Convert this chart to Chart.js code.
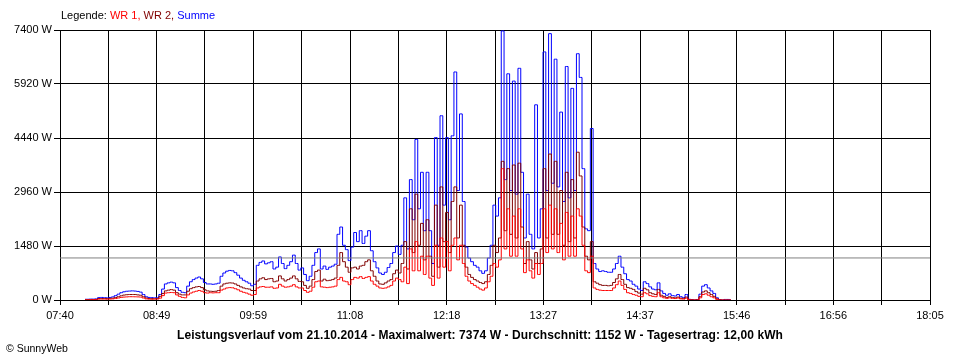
<!DOCTYPE html>
<html>
<head>
<meta charset="utf-8">
<title>Leistungsverlauf 21.10.2014</title>
<script src="https://cdn.jsdelivr.net/npm/chart.js@4.4.1/dist/chart.umd.min.js"></script>
<style>
  html, body { margin: 0; padding: 0; background: #fff; }
  #wrap { position: relative; width: 960px; height: 360px; overflow: hidden; font-family: 'Liberation Sans', Arial, sans-serif; }
  #chart { position: absolute; left: 0; top: 0; }
  #legende { position: absolute; left: 61px; top: 9px; font-size: 11px; color: #000; white-space: nowrap; }
  #caption { position: absolute; left: 0; width: 960px; top: 328px; text-align: center; font-size: 12px; font-weight: bold; letter-spacing: 0.1px; color: #000; white-space: nowrap; }
  #copy { position: absolute; left: 6px; top: 342px; font-size: 10.5px; color: #000; }
</style>
</head>
<body>
<div id="wrap">
  <canvas id="chart" width="960" height="360"></canvas>
  <div id="legende">Legende: <span style="color:#ff0000">WR 1,</span> <span style="color:#800000">WR 2,</span> <span style="color:#0000ff">Summe</span></div>
  <div id="caption">Leistungsverlauf vom 21.10.2014 - Maximalwert: 7374 W - Durchschnitt: 1152 W - Tagesertrag: 12,00 kWh</div>
  <div id="copy">&copy; SunnyWeb</div>
</div>
<script>
// samples every 2 minutes, first one at 07:58
const startMinute = 478;
const stepMinutes = 2;
// x axis runs 07:40 .. 18:05 (minutes of the day)
const axisStart = 460;
const axisEnd = 1085;
const xTickLabels = ['07:40', '08:49', '09:59', '11:08', '12:18', '13:27', '14:37', '15:46', '16:56', '18:05'];
const yMax = 7400;
const yStep = 1480;
const averageW = 1152;

// Summe (blue)
const sumW = [
  20, 20, 25, 25, 30, 65, 70, 65, 60, 70, 85, 120, 160, 200, 225, 240, 245, 250, 245, 235, 215, 150, 90, 70, 65,
  60, 65, 150, 300, 440, 470, 490, 470, 340, 260, 210, 200, 380, 500, 560, 600, 630, 580, 480, 440, 440, 430, 440, 460, 650, 740, 790, 810, 800, 750, 680, 600, 540, 500, 460, 390,
  430, 950, 1030, 1070, 990, 1020, 1050, 850, 900, 1180, 1000, 860, 950, 1050, 1230, 1000, 820, 880, 700, 530, 650, 950, 1300, 1400, 850, 930, 840, 900, 930, 980,
  1800, 2000, 1500, 1380, 1080, 1450, 1850, 1600, 1900, 1550, 1750, 1900, 1350, 1050, 880, 740, 700, 760, 890, 1000, 1300, 1480, 1250,
  1500, 2800, 1400, 3300, 2200, 4400, 2500, 3500, 1900, 3500, 1900, 1000, 4450, 1500, 5050, 2600, 4450, 2200, 4500, 6250, 3000, 5100, 2700, 1450,
  1150, 1050, 950, 900, 800, 730, 800, 1150, 1500, 2600, 2300,
  2800, 7374, 3300, 6200, 3000, 6000, 2900, 6350, 3500, 1700, 2900, 1800, 1400, 5350, 1700, 2500,
  6800, 3000, 7300, 3200, 6600, 3100, 5150, 2700, 6400, 2800, 5800, 3000, 6750, 6100, 3600, 1950, 1900, 4700, 1000, 850,
  780, 800, 780, 760, 760, 850, 1000, 1200, 900, 720, 560, 520, 430, 380, 300, 260, 500, 450, 360, 300, 280, 470, 250, 180,
  130, 170, 120, 110, 150, 90, 70, 150, 20, 10, 0, 10, 160, 380, 420, 330, 250, 180, 60, 10, 0, 15, 15, 0
];

// WR 2 (dark red)
const wr2W = [
  10, 10, 10, 12, 15, 40, 40, 40, 38, 45, 50, 70, 90, 115, 135, 145, 150, 150, 150, 140, 130, 90, 55, 40, 38,
  30, 40, 100, 180, 250, 270, 285, 270, 200, 160, 140, 140, 240, 310, 340, 360, 370, 340, 280, 250, 240, 235, 240, 260, 380, 440, 460, 470, 465, 440, 400, 360, 330, 310, 300, 260,
  260, 520, 580, 610, 560, 580, 590, 500, 520, 660, 580, 520, 560, 600, 660, 580, 510, 500, 400, 320, 380, 560, 780, 820, 520, 570, 530, 540, 560, 600,
  950, 1300, 1050, 900, 760, 880, 900, 850, 930, 950, 1050, 1100, 800, 650, 520, 440, 430, 470, 520, 560, 720, 820, 740,
  1000, 1600, 850, 2500, 1300, 2900, 1500, 2100, 1100, 2200, 1200, 650, 2600, 900, 3100, 1600, 2400, 1300, 2700, 3100, 1700, 2600, 1500, 900,
  700, 620, 560, 520, 480, 450, 500, 700, 950, 1500, 1300,
  1700, 3800, 1900, 3600, 1800, 3700, 1700, 3750, 2000, 1000, 1600, 1100, 850, 1300, 1000, 1400,
  3600, 1700, 4000, 1800, 3800, 1800, 3000, 1500, 3500, 1600, 3300, 1700, 4050, 3400, 2000, 1200, 1100, 1600, 500, 460,
  420, 400, 400, 390, 400, 480, 580, 700, 560, 430, 340, 320, 290, 230, 190, 160, 320, 280, 200, 170, 150, 290, 130, 100,
  70, 90, 70, 60, 80, 50, 40, 80, 10, 5, 0, 5, 90, 220, 250, 200, 150, 100, 30, 5, 0, 0, 0, 0
];

// WR 1 (red)
const wr1W = [
  5, 5, 8, 8, 10, 25, 25, 25, 22, 25, 30, 40, 55, 70, 80, 85, 90, 90, 88, 85, 80, 55, 30, 25, 20,
  30, 25, 50, 120, 190, 200, 205, 200, 140, 100, 70, 60, 140, 190, 220, 240, 260, 240, 200, 190, 200, 195, 200, 200, 270, 300, 330, 340, 335, 310, 280, 240, 210, 190, 160, 130,
  150, 330, 360, 370, 350, 350, 360, 320, 330, 430, 380, 350, 360, 380, 420, 360, 330, 330, 260, 210, 240, 350, 500, 520, 360, 350, 340, 350, 360, 380,
  560, 620, 520, 500, 420, 560, 620, 600, 640, 590, 620, 640, 520, 430, 380, 330, 320, 330, 360, 400, 520, 600, 560,
  500, 900, 450, 1400, 800, 1600, 800, 1200, 700, 1200, 600, 400, 1500, 600, 1700, 900, 1600, 800, 1500, 1700, 1100, 1500, 1000, 650,
  520, 450, 400, 350, 300, 270, 330, 500, 650, 1000, 900,
  1100, 3600, 1400, 2500, 1200, 2300, 1200, 2500, 1400, 750, 1100, 800, 600, 1000, 700, 1000,
  2500, 1300, 2600, 1400, 2500, 1300, 2100, 1100, 2400, 1200, 2300, 1200, 2500, 2300, 1500, 800, 750, 1200, 330, 290,
  270, 260, 260, 260, 260, 330, 420, 520, 400, 290, 200, 180, 150, 130, 100, 90, 200, 170, 120, 100, 90, 200, 90, 60,
  45, 60, 45, 40, 55, 30, 25, 50, 5, 0, 0, 0, 60, 150, 170, 130, 90, 60, 20, 0, 0, 0, 0, 0
];

function toPoints(values) {
  return values.map((v, i) => ({ x: startMinute + i * stepMinutes, y: v }));
}

const tickFont = { family: "'Liberation Sans', Arial, sans-serif", size: 11 };

new Chart(document.getElementById('chart'), {
  type: 'line',
  data: {
    datasets: [
      {
        label: 'Durchschnitt',
        data: [{ x: axisStart, y: averageW }, { x: axisEnd, y: averageW }],
        borderColor: '#808080',
        stepped: false,
        order: 0
      },
      { label: 'WR 1', data: toPoints(wr1W), borderColor: '#ff0000', order: 1 },
      { label: 'WR 2', data: toPoints(wr2W), borderColor: '#800000', order: 2 },
      { label: 'Summe', data: toPoints(sumW), borderColor: '#0000ff', order: 3 }
    ]
  },
  options: {
    responsive: false,
    animation: false,
    events: [],
    layout: { padding: { top: 30, right: 30, bottom: 0, left: 0 } },
    elements: {
      point: { radius: 0 },
      line: { borderWidth: 1, tension: 0, fill: false, stepped: 'middle' }
    },
    plugins: {
      legend: { display: false },
      tooltip: { enabled: false },
      title: { display: false }
    },
    scales: {
      x: {
        type: 'linear',
        min: axisStart,
        max: axisEnd,
        z: 1,
        afterBuildTicks: (scale) => {
          const n = (xTickLabels.length - 1) * 2;
          const ticks = [];
          for (let k = 0; k <= n; k++) ticks.push({ value: axisStart + (axisEnd - axisStart) * k / n });
          scale.ticks = ticks;
        },
        afterFit: (scale) => { scale.height = 60; },
        grid: { color: '#000', lineWidth: 1, tickLength: 5, drawTicks: true },
        border: { color: '#000', width: 1 },
        ticks: {
          color: '#000',
          font: tickFont,
          padding: 4,
          maxRotation: 0,
          autoSkip: false,
          callback: (value, index) => (index % 2 === 0 ? xTickLabels[index / 2] : '')
        }
      },
      y: {
        min: 0,
        max: yMax,
        z: 1,
        afterFit: (scale) => { scale.width = 60; },
        grid: { color: '#000', lineWidth: 1, tickLength: 6, drawTicks: true },
        border: { color: '#000', width: 1 },
        ticks: {
          stepSize: yStep,
          color: '#000',
          font: tickFont,
          padding: 2,
          callback: (value) => value + ' W'
        }
      }
    }
  }
});
</script>
</body>
</html>
